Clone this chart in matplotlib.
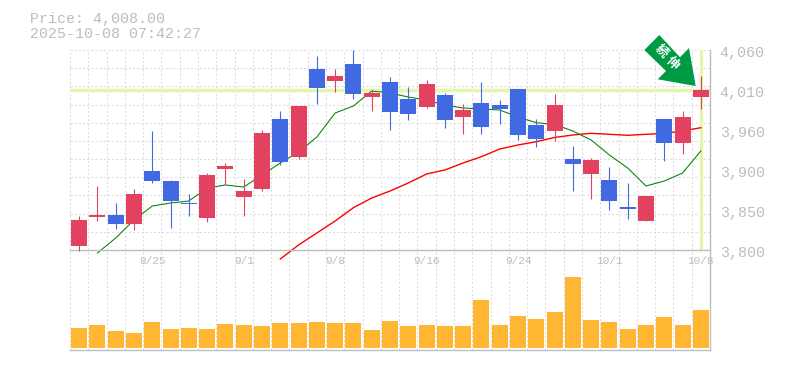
import matplotlib
matplotlib.use("Agg")
import matplotlib.pyplot as plt
from matplotlib.patches import Polygon
from matplotlib.transforms import IdentityTransform, ScaledTranslation
import numpy as np

plt.rcParams['lines.scale_dashes'] = False

opens = [3805.2,3842.9,3845.5,3833.8,3902.7,3889.7,3861.1,3841.6,3905.3,3868.9,3879.3,3970.3,3920.9,4035.3,4019.7,4041.8,3998.9,4018.4,3996.3,3985.9,4001.5,3972.9,3991.1,3988.5,4009.3,3962.5,3954.7,3918.3,3898.8,3891.0,3855.9,3837.7,3970.3,3939.1,3998.9]
highs = [3844.2,3883.2,3861.1,3879.3,3954.7,3891.0,3872.8,3900.1,3913.1,3892.3,3956.0,3980.7,3987.2,4052.2,4035.3,4060.0,4008.0,4024.9,4011.9,4021.0,4004.1,3989.8,4018.4,3995.0,4009.3,3970.3,4002.8,3935.2,3919.6,3907.9,3887.1,3870.2,3970.3,3980.7,4026.2]
lows = [3799.0,3837.7,3827.3,3826.0,3887.1,3828.6,3844.2,3836.4,3884.5,3844.2,3876.7,3910.5,3918.3,3989.8,4005.4,3996.3,3980.7,3956.0,3969.0,3984.6,3958.6,3950.8,3950.8,3963.8,3943.0,3933.9,3941.7,3876.7,3866.3,3852.0,3840.3,3837.7,3915.7,3924.8,3983.3]
closes = [3839.0,3845.5,3833.8,3872.8,3889.7,3863.7,3859.8,3897.5,3909.2,3876.7,3952.1,3914.4,3987.2,4010.6,4026.2,4002.8,4004.1,3979.4,3976.8,4015.8,3969.0,3982.0,3959.9,3983.3,3949.5,3944.3,3988.5,3911.8,3917.0,3863.7,3853.3,3870.2,3939.1,3972.9,4008.0]
volumes = [20000,23000,17000,15000,26000,19000,20000,19000,24000,23000,22000,25000,25000,26000,25000,25000,18000,27000,22000,23000,22000,22000,48000,23000,32000,29000,36000,71000,28000,26000,19000,23000,31000,23000,38000]
ma_short = [3796.1,3815.6,3839.0,3857.2,3861.1,3863.7,3880.6,3884.5,3881.9,3897.5,3913.1,3927.4,3946.9,3978.1,3987.2,4006.7,4004.1,3998.9,3995.0,3988.5,3984.6,3983.3,3982.0,3972.9,3965.5,3963.2,3954.7,3943.0,3923.5,3906.6,3883.2,3889.7,3900.1,3928.7]
ma_long = [3788.3,3806.5,3822.1,3837.7,3855.0,3867.6,3876.7,3887.1,3898.8,3904.0,3913.1,3921.3,3931.3,3936.5,3940.8,3946.3,3949.5,3951.7,3950.4,3949.1,3950.4,3951.5,3954.7,3959.0]
ma_short_start = 1
ma_long_start = 11
price_ticks = [3800, 3852, 3904, 3956, 4008, 4060]
price_labels = ['3,800', '3,850', '3,900', '3,960', '4,010', '4,060']
date_idx = [4, 9, 14, 19, 24, 29, 34]
date_labels = ['8/25', '9/1', '9/8', '9/16', '9/24', '10/1', '10/8']
last_price = 4008.0
title_lines = ['Price: 4,008.00', '2025-10-08 07:42:27']

W, H = 785, 370
RED, BLUE, ORANGE = '#E2425F', '#4169E1', '#FFB733'
GRID, AXC, TXT, HL = '#DCDCDC', '#BEBEBE', '#BDBDBD', '#E4F5AE'
DASH = (0, (1.5, 1.5))
MONO = 'Liberation Mono'

fig = plt.figure(figsize=(W / 100, H / 100), dpi=100, facecolor='white')
ax = fig.add_axes([70 / W, 1 - 250 / H, 640 / W, 200 / H])
av = fig.add_axes([70 / W, 1 - 350 / H, 640 / W, 100 / H])
ax.set_zorder(2)
ax.patch.set_alpha(0)

n = len(opens)
xs = np.arange(n)
for a in (ax, av):
    a.set_xlim(-0.5, n - 0.5)
    for e in xs[:-1]:
        a.axvline(e + 0.5, color=GRID, lw=0.75, ls=DASH, zorder=0)
    a.axvline(-0.5, color=GRID, lw=0.75, ls=DASH, zorder=0, clip_on=False)
    for s in ('left', 'top'):
        a.spines[s].set_visible(False)
    for s in ('right', 'bottom'):
        a.spines[s].set_color(AXC)
        a.spines[s].set_linewidth(1.0)

ax.set_ylim(3800, 4060)
for g in np.linspace(3800, 4060, 12)[1:]:
    ax.axhline(g, color=GRID, lw=0.75, ls=DASH, zorder=0, clip_on=False)

ax.axhline(last_price, color=HL, lw=2.5, zorder=1)
ax.axvline(n - 1, color=HL, lw=2.3, zorder=1, ymin=0.005)

line_kw = dict(clip_on=False, zorder=2, solid_joinstyle='round')
ax.plot(xs[ma_long_start:], ma_long, color='#FF0000', lw=1.0, **line_kw)
ax.plot(xs[ma_short_start:], ma_short, color='#008000', lw=0.75, **line_kw)

colors = [RED if c >= o else BLUE for o, c in zip(opens, closes)]
ax.vlines(xs, lows, highs, colors=colors, lw=0.8, zorder=3, clip_on=False)
ax.bar(xs, np.array(closes) - np.array(opens), bottom=opens, width=16 / 18.29,
       color=colors, linewidth=0, zorder=4)

ax.set_yticks(price_ticks, price_labels)
ax.yaxis.tick_right()
ax.tick_params(axis='y', length=0, pad=7, labelsize=10.8, labelcolor=TXT)
for lb in ax.get_yticklabels():
    lb.set_family(MONO)
    lb.set_transform(lb.get_transform() + ScaledTranslation(0, -2 / 100, fig.dpi_scale_trans))
ax.set_xticks(date_idx, date_labels)
ax.tick_params(axis='x', length=0, pad=4.5, labelsize=8, labelcolor=TXT)
for lb in ax.get_xticklabels():
    lb.set_family(MONO)

av.set_ylim(-2000, 98000)
av.bar(xs, volumes, width=16 / 18.29, color=ORANGE, linewidth=0, zorder=2)
av.set_xticks([])
av.set_yticks([])

for i, line in enumerate(title_lines):
    fig.text(30 / W, 1 - (23 + 15 * i) / H, line, family=MONO, fontsize=10.8,
             color=TXT, ha='left', va='baseline')

verts = [(659.3, 35), (644.3, 50), (666, 71), (657.7, 79.3), (695.7, 86), (689, 48), (680, 57.3)]
fig.add_artist(Polygon([(x, H - y) for x, y in verts], closed=True, facecolor='#009944',
                       edgecolor='none', transform=IdentityTransform(), zorder=6))
for ch, (x, y) in zip('続伸', [(661.7, 51.7), (672, 63)]):
    fig.text(x / W, 1 - y / H, ch, family=['Noto Sans CJK JP', 'DejaVu Sans'], fontsize=9,
             fontweight='bold', color='white', rotation=-45, ha='center', va='center',
             rotation_mode='anchor', zorder=7)

fig.savefig('out.png', dpi=100, facecolor='white')
